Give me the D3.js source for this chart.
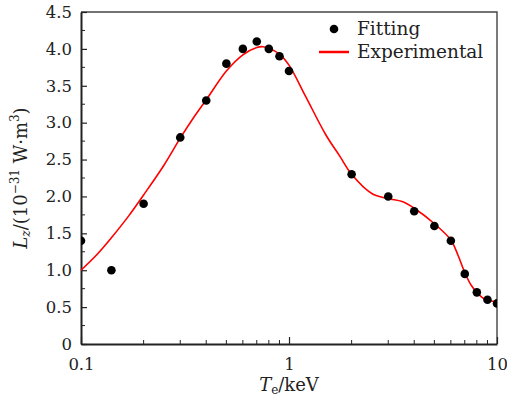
<!DOCTYPE html>
<html>
<head>
<meta charset="utf-8">
<script src="https://cdn.jsdelivr.net/npm/d3@7"></script>
<style>
  body { margin: 0; background: #fff; }
  text { font-family: "DejaVu Serif", "Liberation Serif", serif; fill: #222; }
</style>
</head>
<body>
<div class="chart"></div>
<script>
// fitting points (T_e in keV, L_z)
var fitX = [0.1, 0.14, 0.2, 0.3, 0.4, 0.5, 0.6, 0.7, 0.8, 0.9, 1.0, 2.0, 3.0, 4.0, 5.0, 6.0, 7.0, 8.0, 9.0, 10.0];
var fitY = [1.4, 1.0, 1.9, 2.8, 3.3, 3.8, 4.0, 4.1, 4.0, 3.9, 3.7, 2.3, 2.0, 1.8, 1.6, 1.4, 0.95, 0.7, 0.6, 0.55];

// experimental curve samples
var expX = [0.1, 0.12, 0.14, 0.17, 0.2, 0.25, 0.3, 0.35, 0.4, 0.5, 0.6, 0.7, 0.75, 0.8, 0.9, 1.0, 1.2, 1.5, 1.76, 2.0, 2.5, 3.0, 3.5, 4.0, 5.0, 6.0, 6.5, 7.0, 7.5, 8.0, 8.5, 9.0, 10.0];
var expY = [1.0, 1.22, 1.44, 1.74, 2.02, 2.42, 2.79, 3.08, 3.31, 3.7, 3.92, 4.02, 4.03, 4.01, 3.93, 3.78, 3.36, 2.84, 2.54, 2.3, 2.04, 1.97, 1.93, 1.84, 1.63, 1.41, 1.2, 0.97, 0.8, 0.7, 0.63, 0.59, 0.58];

var yTicks = [0, 0.5, 1.0, 1.5, 2.0, 2.5, 3.0, 3.5, 4.0, 4.5];
var yTickLabels = ["0", "0.5", "1.0", "1.5", "2.0", "2.5", "3.0", "3.5", "4.0", "4.5"];
var xTicks = [0.1, 1, 10];
var xTickLabels = ["0.1", "1", "10"];

var W = 507, H = 401;
var margin = {top: 12, right: 10, bottom: 57, left: 81},
    width = W - margin.left - margin.right,
    height = H - margin.top - margin.bottom;

var svg = d3.select(".chart").append("svg")
    .attr("width", W)
    .attr("height", H);

var g = svg.append("g")
    .attr("transform", "translate(" + margin.left + "," + margin.top + ")");

var x = d3.scaleLog().domain([0.1, 10]).range([0, width]);
var y = d3.scaleLinear().domain([0, 4.5]).range([height, 0]);

g.append("clipPath").attr("id", "clip")
    .append("rect").attr("width", width).attr("height", height);

// frame (top/right)
g.append("path")
    .attr("d", "M0,0H" + width + "V" + height)
    .style("fill", "none")
    .style("stroke", "#444")
    .style("stroke-width", 1.4);

// minor ticks
var yMinor = d3.range(0.25, 4.5, 0.5);
g.selectAll(".ymin").data(yMinor).enter().append("line")
    .attr("x1", 0).attr("x2", 4)
    .attr("y1", function(d) { return y(d); })
    .attr("y2", function(d) { return y(d); })
    .style("stroke", "#222").style("stroke-width", 1);

var xMinor = [];
[0.1, 1].forEach(function(b) { for (var k = 2; k <= 9; k++) xMinor.push(b * k); });
g.selectAll(".xmin").data(xMinor).enter().append("line")
    .attr("x1", function(d) { return x(d); })
    .attr("x2", function(d) { return x(d); })
    .attr("y1", height).attr("y2", height - 4)
    .style("stroke", "#222").style("stroke-width", 1);

// y axis
var yAxis = g.append("g")
    .call(d3.axisLeft(y).tickValues(yTicks).tickSizeInner(-6).tickSizeOuter(0)
        .tickPadding(9).tickFormat(function(d, i) { return yTickLabels[i]; }));
yAxis.select(".domain").style("stroke", "#222").style("stroke-width", 2);
yAxis.selectAll(".tick line").style("stroke", "#222").style("stroke-width", 1.2);
yAxis.selectAll("text").style("font-size", "16.5px").style("font-family", "DejaVu Serif, serif").style("fill", "#222");

// x axis
var xAxis = g.append("g")
    .attr("transform", "translate(0," + height + ")")
    .call(d3.axisBottom(x).tickValues(xTicks).tickSizeInner(-7).tickSizeOuter(0)
        .tickPadding(14).tickFormat(function(d, i) { return xTickLabels[i]; }));
xAxis.select(".domain").style("stroke", "#222").style("stroke-width", 2);
xAxis.selectAll(".tick line").style("stroke", "#222").style("stroke-width", 1.2);
xAxis.selectAll("text").style("font-size", "16.5px").style("font-family", "DejaVu Serif, serif").style("fill", "#222");

// experimental curve
var line = d3.line()
    .x(function(d) { return x(d[0]); })
    .y(function(d) { return y(d[1]); })
    .curve(d3.curveCatmullRom);

g.append("path")
    .datum(d3.zip(expX, expY))
    .attr("d", line)
    .style("fill", "none")
    .style("stroke", "#f00")
    .style("stroke-width", 1.6);

// fitting dots
g.append("g").attr("clip-path", "url(#clip)")
    .selectAll(".dot").data(d3.zip(fitX, fitY)).enter().append("circle")
    .attr("cx", function(d) { return x(d[0]); })
    .attr("cy", function(d) { return y(d[1]); })
    .attr("r", 4.3)
    .style("fill", "#000");

// legend
var leg = svg.append("g").attr("transform", "translate(319,0)");
leg.append("circle").attr("cx", 15).attr("cy", 29).attr("r", 4.3).style("fill", "#000");
leg.append("text").attr("x", 38).attr("y", 35).style("font-size", "18.5px").text("Fitting");
leg.append("line").attr("x1", 0).attr("x2", 30).attr("y1", 52).attr("y2", 52)
    .style("stroke", "#f00").style("stroke-width", 2.5);
leg.append("text").attr("x", 38).attr("y", 58).style("font-size", "18.5px").text("Experimental");

// axis titles
var xt = svg.append("text")
    .attr("x", margin.left + width / 2)
    .attr("y", 391)
    .attr("text-anchor", "middle")
    .style("font-size", "18px");
xt.append("tspan").style("font-style", "italic").text("T");
xt.append("tspan").attr("dy", 3).style("font-size", "12px").text("e");
xt.append("tspan").attr("dy", -3).text("/keV");

var yt = svg.append("text")
    .attr("transform", "translate(27," + (margin.top + height / 2) + ") rotate(-90)")
    .attr("text-anchor", "middle")
    .style("font-size", "18px");
yt.append("tspan").style("font-style", "italic").text("L");
yt.append("tspan").attr("dy", 3).style("font-size", "12px").style("font-style", "italic").text("z");
yt.append("tspan").attr("dy", -3).text("/(10");
yt.append("tspan").attr("dy", -8).style("font-size", "12px").text("\u221231");
yt.append("tspan").attr("dy", 8).text(" W\u00b7m");
yt.append("tspan").attr("dy", -8).style("font-size", "12px").text("3");
yt.append("tspan").attr("dy", 8).text(")");
</script>
</body>
</html>
